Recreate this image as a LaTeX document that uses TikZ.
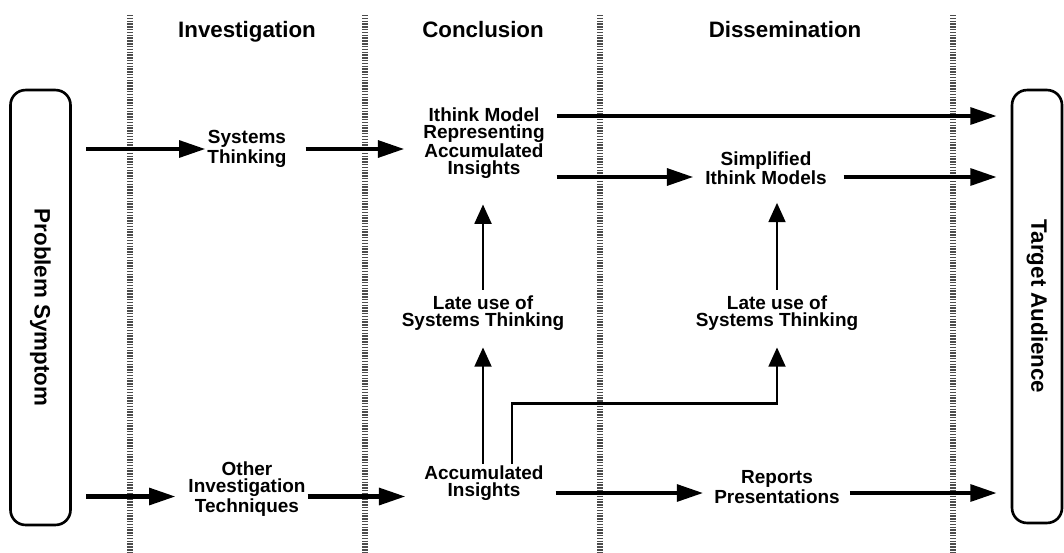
\documentclass[tikz,border=0pt]{standalone}
\usepackage{fontspec}
\setmainfont{Liberation Sans}
\usetikzlibrary{arrows.meta}

\begin{document}
\begin{tikzpicture}[x=0.02cm, y=-0.02cm,
    mybox/.style={draw, line width=1.5pt, rounded corners=0.3cm, rotate=-90, inner sep=0pt, font=\fontsize{12.7}{14}\selectfont\bfseries},
    myhead/.style={anchor=base, font=\fontsize{12.7}{14}\selectfont\bfseries},
    mylabel/.style={font=\fontsize{10.8}{9.5}\selectfont\bfseries, align=center, inner sep=1pt},
    myarrow/.style={-{Triangle[length=15pt, width=9.5pt]}, line width=2.3pt},
    myup/.style={-{Triangle[length=11pt, width=9.5pt]}, line width=1.6pt},
    mydivider/.style={line width=3pt, black!70, dash pattern=on 0.8pt off 0.8pt}
]
    \useasboundingbox (0,0) rectangle (1064,552);

    % Phase dividers
    \foreach \x in {130,365,600,953}
        \draw[mydivider] (\x,15) -- (\x,552);

    % Phase headers
    \node[myhead] (hinv) at (247,37) {Investigation};
    \node[myhead] (hcon) at (483,37) {Conclusion};
    \node[myhead] (hdis) at (785,37) {Dissemination};

    % Side boxes
    \node[mybox, minimum width=8.7cm, minimum height=1.2cm] (psym) at (40.5,307.5) {Problem Symptom};
    \node[mybox, minimum width=8.66cm, minimum height=1.0cm] (taud) at (1037,306.5) {Target Audience};

    % Stages
    \node[mylabel] (syst) at (247,149) {Systems\\Thinking};
    \node[mylabel] (ithk) at (484,143) {Ithink Model\\Representing\\Accumulated\\Insights};
    \node[mylabel] (simp) at (766,168) {Simplified\\Ithink Models};
    \node[mylabel] (late1) at (483,313) {Late use of\\Systems Thinking};
    \node[mylabel] (late2) at (777,313) {Late use of\\Systems Thinking};
    \node[mylabel] (accu) at (484,483) {Accumulated\\Insights};
    \node[mylabel] (oitq) at (247,489) {Other\\Investigation\\Techniques};
    \node[mylabel] (repp) at (777,487) {Reports\\Presentations};

    % Upper flow
    \draw[myarrow, shorten <=0.29cm] (psym.north |- syst.west) -- (syst.west);
    \draw[myarrow, shorten <=0.34cm, shorten >=0.34cm] (syst.east) -- (syst.east -| ithk.west);
    \coordinate (ithkhi) at ([yshift=0.54cm]ithk.east);
    \coordinate (ithklo) at ([yshift=-0.68cm]ithk.east);
    \draw[myarrow, shorten <=0.2cm, shorten >=0.28cm] (ithkhi) -- (ithkhi -| taud.south);
    \draw[myarrow, shorten <=0.2cm, shorten >=0.2cm] (ithklo) -- (ithklo -| simp.west);
    \draw[myarrow, shorten <=0.3cm, shorten >=0.28cm] (simp.east |- ithklo) -- (ithklo -| taud.south);

    % Lower flow
    \coordinate (oitqin) at ([yshift=-0.15cm]oitq.west);
    \draw[myarrow, shorten <=0.29cm, shorten >=0.22cm] (psym.north |- oitqin) -- (oitqin);
    \draw[myarrow, shorten >=0.34cm] (oitq.east |- oitqin) -- (oitqin -| accu.west);
    \coordinate (accuout) at ([yshift=-0.2cm]accu.east);
    \draw[myarrow, shorten <=0.2cm, shorten >=0.18cm] (accuout) -- (accuout -| repp.west);
    \draw[myarrow, shorten <=0.16cm, shorten >=0.28cm] (repp.east |- accuout) -- (accuout -| taud.south);

    % Late use of systems thinking
    \draw[myup, shorten <=0.08cm, shorten >=0.48cm] (late1.north) -- (late1.north |- ithk.south);
    \draw[myup, shorten <=0.08cm, shorten >=0.32cm] (late2.north) -- (late2.north |- simp.south);
    \draw[myup, shorten >=0.3cm] (late1.south |- accu.north) -- (late1.south);
    \draw[myup, shorten >=0.3cm] ([xshift=0.56cm]accu.north) -- ++(0,-60) -| (late2.south);
\end{tikzpicture}
\end{document}
